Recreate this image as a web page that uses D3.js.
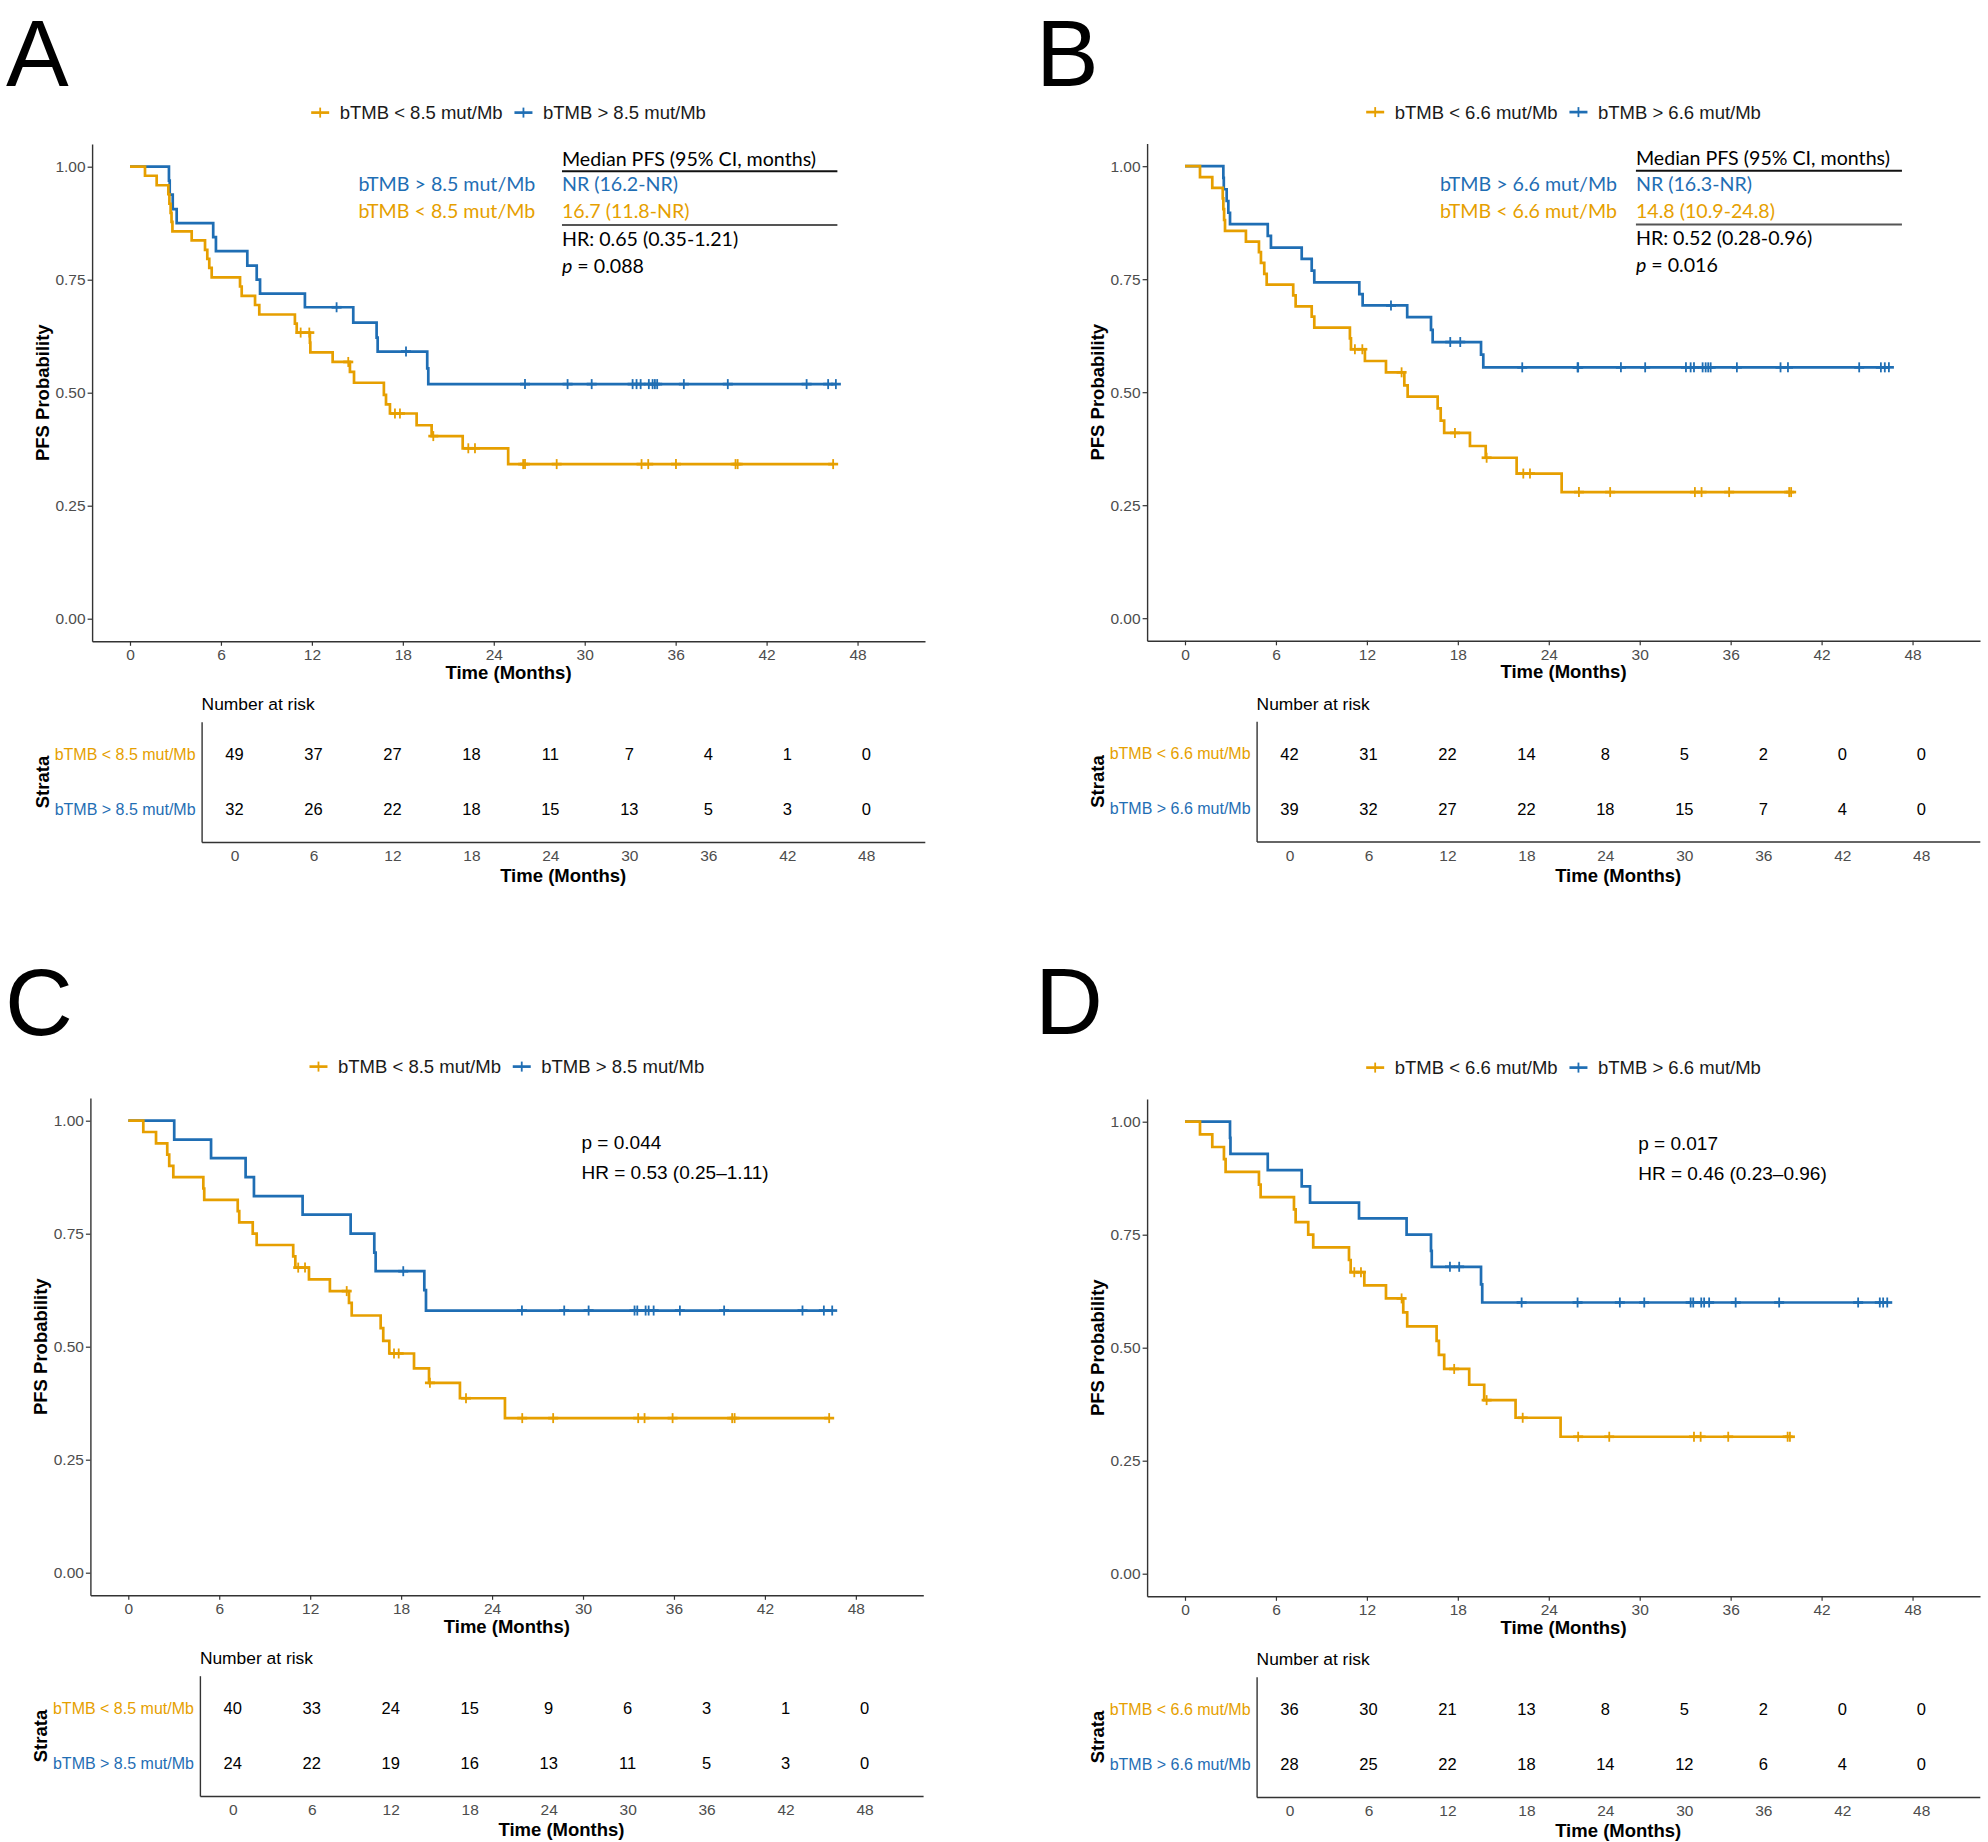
<!DOCTYPE html>
<html><head><meta charset="utf-8">
<script src="https://cdn.jsdelivr.net/npm/d3@7"></script>
<style>body{margin:0;background:#fff}svg{display:block}</style>
</head><body>
<svg id="chart" width="1988" height="1842"></svg>
<script>
// ---------------- data ----------------
const monthTicks = [0, 6, 12, 18, 24, 30, 36, 42, 48];
const survTicks = [0, 0.25, 0.5, 0.75, 1];

// Panel A (cut-off 8.5 mut/Mb)
const A_lowTime = [0.99,1.76,2.53,2.6,2.68,2.74,2.8,4.07,4.95,5.10,5.23,5.39,7.26,7.37,8.25,8.53,10.88,11.0,11.87,11.9,13.37,14.51,14.78,16.75,16.89,17.15,18.91,19.9,21.95,24.95];
const A_lowSurv = [0.98,0.959,0.939,0.918,0.898,0.878,0.857,0.837,0.816,0.796,0.776,0.755,0.735,0.714,0.694,0.673,0.653,0.633,0.611,0.589,0.568,0.546,0.522,0.495,0.474,0.454,0.428,0.404,0.377,0.342];
const A_lowCensor = [11.26,11.83,14.4,17.48,17.81,20.01,22.32,22.76,25.94,26.06,28.15,33.75,34.19,36.02,39.95,40.09,46.39];
const A_highTime = [2.57,2.62,2.82,3.08,5.49,5.67,7.74,8.36,8.58,11.54,14.73,16.27,16.34,19.61,19.68];
const A_highSurv = [0.969,0.938,0.906,0.875,0.844,0.813,0.781,0.75,0.719,0.689,0.655,0.622,0.591,0.554,0.519];
const A_highCensor = [13.63,18.21,26.06,28.87,30.46,33.16,33.42,33.69,34.23,34.48,34.63,34.78,36.54,39.44,44.64,46.06,46.57];
const A_lowRisk = [49,37,27,18,11,7,4,1,0];
const A_highRisk = [32,26,22,18,15,13,5,3,0];

// Panel B (cut-off 6.6 mut/Mb)
const B_lowTime = [0.99,1.8,2.49,2.53,2.58,2.64,4.02,4.88,5.01,5.23,5.39,7.14,7.3,8.36,8.53,10.88,10.95,11.87,13.26,14.47,14.69,16.67,16.87,17.1,18.8,19.84,21.88,24.85];
const B_lowSurv = [0.976,0.952,0.929,0.905,0.881,0.857,0.833,0.81,0.786,0.762,0.738,0.714,0.69,0.667,0.643,0.619,0.595,0.569,0.544,0.515,0.49,0.464,0.437,0.41,0.381,0.355,0.32,0.279];
const B_lowCensor = [11.21,11.7,14.29,17.81,19.9,22.32,22.76,25.99,28.05,33.64,34.08,35.9,39.86,39.99];
const B_highTime = [2.53,2.56,2.75,2.86,2.97,5.46,5.67,7.7,8.36,8.53,11.5,11.72,14.66,16.23,16.34,19.53,19.68];
const B_highSurv = [0.974,0.949,0.923,0.897,0.872,0.846,0.820,0.795,0.769,0.743,0.717,0.692,0.666,0.638,0.611,0.583,0.555];
const B_highCensor = [13.59,17.5,18.16,22.25,25.9,25.94,28.76,30.36,33.05,33.36,33.58,34.15,34.35,34.52,34.68,36.41,39.29,39.78,44.48,45.91,46.17,46.44];
const B_lowRisk = [42,31,22,14,8,5,2,0,0];
const B_highRisk = [39,32,27,22,18,15,7,4,0];

// Panel C (cut-off 8.5 mut/Mb)
const C_lowTime = [0.99,1.83,2.57,2.7,2.97,4.95,5.01,7.22,7.32,8.21,8.47,10.88,11.02,11.92,13.3,14.56,14.74,16.65,16.82,17.22,18.85,19.84,21.88,24.85];
const C_lowSurv = [0.975,0.95,0.925,0.9,0.875,0.85,0.825,0.8,0.775,0.75,0.725,0.7,0.675,0.649,0.623,0.597,0.569,0.541,0.513,0.485,0.452,0.42,0.386,0.342];
const C_lowCensor = [11.21,11.66,14.41,17.53,17.84,19.9,22.28,25.99,28.03,33.64,34.06,35.91,39.84,40.0,46.24];
const C_highTime = [3.03,5.46,7.74,8.29,11.5,14.67,16.23,16.32,19.53,19.64];
const C_highSurv = [0.958,0.917,0.875,0.833,0.792,0.75,0.708,0.667,0.625,0.58];
const C_highCensor = [18.14,25.97,28.76,30.37,33.4,33.58,34.13,34.33,34.66,36.39,39.31,44.48,45.89,46.44];
const C_lowRisk = [40,33,24,15,9,6,3,1,0];
const C_highRisk = [24,22,19,16,13,11,5,3,0];

// Panel D (cut-off 6.6 mut/Mb)
const D_lowTime = [0.99,1.8,2.57,2.68,4.88,4.99,7.19,7.3,8.13,8.46,10.82,10.93,11.83,13.26,14.4,14.66,16.6,16.75,17.1,18.75,19.74,21.81,24.78];
const D_lowSurv = [0.972,0.944,0.917,0.889,0.861,0.833,0.806,0.778,0.75,0.722,0.694,0.667,0.638,0.609,0.578,0.547,0.515,0.484,0.453,0.418,0.384,0.345,0.303];
const D_lowCensor = [11.17,11.61,14.29,17.76,19.9,22.28,25.94,27.99,33.58,34.02,35.84,39.76,39.91];
const D_highTime = [2.97,3.0,5.46,7.7,8.25,11.48,14.62,16.23,16.28,19.53,19.61];
const D_highSurv = [0.964,0.929,0.893,0.857,0.821,0.786,0.75,0.714,0.679,0.64,0.60];
const D_highCensor = [17.48,18.09,22.21,25.9,28.69,30.3,33.36,33.53,34.06,34.25,34.58,36.33,39.2,44.41,45.84,46.06,46.33];
const D_lowRisk = [36,30,21,13,8,5,2,0,0];
const D_highRisk = [28,25,22,18,14,12,6,4,0];

// text content
const A_median = {high:"NR (16.2-NR)", low:"16.7 (11.8-NR)", hr:"HR: 0.65 (0.35-1.21)", p:"0.088"};
const B_median = {high:"NR (16.3-NR)", low:"14.8 (10.9-24.8)", hr:"HR: 0.52 (0.28-0.96)", p:"0.016"};
const C_stats = {p:"p = 0.044", hr:"HR = 0.53 (0.25\u20131.11)"};
const D_stats = {p:"p = 0.017", hr:"HR = 0.46 (0.23\u20130.96)"};

// ---------------- styling / layout ----------------
const COL = {low:"#E69F00", high:"#1F6EB4"};
const SANS = "'Liberation Sans', Arial, sans-serif";
const CAL = "Lato, 'Open Sans', sans-serif";
const svg = d3.select("#chart");

const panels = [
  {letter:"A", lx:6, ly:86, ox:0, oy:0, cut:"8.5",
   low:{time:A_lowTime, surv:A_lowSurv, censor:A_lowCensor, risk:A_lowRisk},
   high:{time:A_highTime, surv:A_highSurv, censor:A_highCensor, risk:A_highRisk},
   median:A_median, medPos:{head:28.5, lab:26.74, end:46.67}},
  {letter:"B", lx:1036, ly:86, ox:1055, oy:-0.5, cut:"6.6",
   low:{time:B_lowTime, surv:B_lowSurv, censor:B_lowCensor, risk:B_lowRisk},
   high:{time:B_highTime, surv:B_highSurv, censor:B_highCensor, risk:B_highRisk},
   median:B_median, medPos:{head:29.75, lab:28.5, end:47.3}},
  {letter:"C", lx:5, ly:1035, ox:-1.7, oy:954, cut:"8.5",
   low:{time:C_lowTime, surv:C_lowSurv, censor:C_lowCensor, risk:C_lowRisk},
   high:{time:C_highTime, surv:C_highSurv, censor:C_highCensor, risk:C_highRisk},
   stats:C_stats},
  {letter:"D", lx:1035, ly:1034, ox:1055, oy:955, cut:"6.6",
   low:{time:D_lowTime, surv:D_lowSurv, censor:D_lowCensor, risk:D_lowRisk},
   high:{time:D_highTime, surv:D_highSurv, censor:D_highCensor, risk:D_highRisk},
   stats:D_stats}
];

function stepAt(time, surv, t){ let s = 1; for (let i=0;i<time.length;i++){ if (time[i] <= t) s = surv[i]; } return s; }

function styleAxis(g){
  g.select(".domain").attr("stroke","#333").attr("stroke-width",1.4);
  g.selectAll(".tick line").attr("stroke","#333").attr("stroke-width",1.2);
  g.selectAll(".tick text").attr("fill","#4D4D4D").style("font-family",SANS).style("font-size","15.5px");
}

panels.forEach(P => {
  const ox = P.ox, oy = P.oy;
  const xDom = [-2.5, 52.45];
  const x = d3.scaleLinear().domain(xDom).range([ox+92.1, ox+925]);
  const y = d3.scaleLinear().domain([-0.05, 1.05]).range([oy+641.3, oy+144.1]);
  const xt = d3.scaleLinear().domain(xDom).range([ox+201.6, ox+924.8]);
  const g = svg.append("g");

  // panel letter
  svg.append("text").attr("x",P.lx).attr("y",P.ly).text(P.letter)
    .style("font-family",SANS).style("font-size","94px").attr("fill","#000");

  // axes
  const gy = g.append("g").attr("transform",`translate(${ox+92.1},0)`)
    .call(d3.axisLeft(y).tickValues(survTicks).tickFormat(d3.format(".2f")).tickSize(4.5).tickSizeOuter(0).tickPadding(2));
  styleAxis(gy);
  const gx = g.append("g").attr("transform",`translate(0,${oy+641.3})`)
    .call(d3.axisBottom(x).tickValues(monthTicks).tickSize(4.5).tickSizeOuter(0).tickPadding(3.3));
  styleAxis(gx);

  g.append("text").attr("x",(x.range()[0]+x.range()[1])/2).attr("y",oy+678.5).attr("text-anchor","middle")
    .text("Time (Months)").style("font-family",SANS).style("font-size","18.5px").style("font-weight","bold");
  g.append("text").attr("transform",`translate(${ox+42.4},${oy+392.7}) rotate(-90)`).attr("text-anchor","middle")
    .attr("dominant-baseline","central")
    .text("PFS Probability").style("font-family",SANS).style("font-size","18.5px").style("font-weight","bold");

  // curves
  const line = d3.line().x(d=>x(d[0])).y(d=>y(d[1])).curve(d3.curveStepAfter);
  ["high","low"].forEach(k => {
    const S = P[k];
    const end = Math.max(S.time[S.time.length-1], S.censor[S.censor.length-1]);
    const pts = [[0,1]].concat(S.time.map((t,i)=>[t,S.surv[i]]));
    pts.push([end, stepAt(S.time,S.surv,end)]);
    g.append("path").datum(pts).attr("d",line).attr("fill","none").attr("stroke",COL[k])
      .attr("stroke-width",2.7).attr("stroke-linejoin","miter");
    const cg = g.append("g").attr("stroke",COL[k]).attr("stroke-width",1.8);
    S.censor.forEach(t => {
      const cx = x(t), cy = y(stepAt(S.time,S.surv,t));
      cg.append("line").attr("x1",cx).attr("x2",cx).attr("y1",cy-5).attr("y2",cy+5);
      cg.append("line").attr("x1",cx-5).attr("x2",cx+5).attr("y1",cy).attr("y2",cy).attr("stroke-width",2.7);
    });
  });

  // legend
  const lg = g.append("g");
  const labels = {low:`bTMB < ${P.cut} mut/Mb`, high:`bTMB > ${P.cut} mut/Mb`};
  let cx = 0;
  ["low","high"].forEach((k,i) => {
    if (i>0) cx += 20.8;
    const kg = lg.append("g");
    kg.append("line").attr("x1",cx-9).attr("x2",cx+9).attr("y1",0).attr("y2",0).attr("stroke",COL[k]).attr("stroke-width",2.7);
    kg.append("line").attr("x1",cx).attr("x2",cx).attr("y1",-5).attr("y2",5).attr("stroke",COL[k]).attr("stroke-width",1.8);
    const t = kg.append("text").attr("x",cx+19.5).attr("y",0).attr("dominant-baseline","central")
      .text(labels[k]).style("font-family",SANS).style("font-size","18.5px").attr("fill","#1a1a1a");
    cx = cx + 19.5 + t.node().getComputedTextLength();
  });
  const lw = cx + 9, lc = (x.range()[0]+x.range()[1])/2;
  lg.attr("transform",`translate(${lc - lw/2 + 9},${oy+112.6})`);

  // annotations
  if (P.median) {
    const M = P.median, pos = P.medPos;
    const ag = g.append("g").style("font-family",CAL);
    const head = ag.append("text").attr("x",x(pos.head)).attr("y",y(1.019)).attr("dominant-baseline","central")
      .text("Median PFS (95% CI, months)").style("font-size","20px").attr("fill","#000");
    const fs = 20*254/head.node().getComputedTextLength();
    head.style("font-size",fs+"px");
    ag.append("line").attr("x1",x(pos.head)).attr("x2",x(pos.end)).attr("y1",y(0.990)).attr("y2",y(0.990)).attr("stroke","#111").attr("stroke-width",2);
    ag.append("text").attr("x",x(pos.lab)).attr("y",y(0.962)).attr("text-anchor","end").attr("dominant-baseline","central")
      .text(labels.high).style("font-size",fs+"px").attr("fill",COL.high);
    ag.append("text").attr("x",x(pos.head)).attr("y",y(0.962)).attr("dominant-baseline","central")
      .text(M.high).style("font-size",fs+"px").attr("fill",COL.high);
    ag.append("text").attr("x",x(pos.lab)).attr("y",y(0.903)).attr("text-anchor","end").attr("dominant-baseline","central")
      .text(labels.low).style("font-size",fs+"px").attr("fill",COL.low);
    ag.append("text").attr("x",x(pos.head)).attr("y",y(0.903)).attr("dominant-baseline","central")
      .text(M.low).style("font-size",fs+"px").attr("fill",COL.low);
    ag.append("line").attr("x1",x(pos.head)).attr("x2",x(pos.end)).attr("y1",y(0.871)).attr("y2",y(0.871)).attr("stroke","#555").attr("stroke-width",2.2);
    ag.append("text").attr("x",x(pos.head)).attr("y",y(0.842)).attr("dominant-baseline","central")
      .text(M.hr).style("font-size",fs+"px").attr("fill","#000");
    const pt = ag.append("text").attr("x",x(pos.head)).attr("y",y(0.783)).attr("dominant-baseline","central")
      .style("font-size",fs+"px").attr("fill","#000");
    pt.append("tspan").style("font-style","italic").text("p");
    pt.append("tspan").text(" = " + M.p);
  }
  if (P.stats) {
    const sg = g.append("g").style("font-family",SANS).style("font-size","19px");
    sg.append("text").attr("x",x(29.9)).attr("y",y(0.951)).attr("dominant-baseline","central").text(P.stats.p);
    sg.append("text").attr("x",x(29.9)).attr("y",y(0.886)).attr("dominant-baseline","central").text(P.stats.hr);
  }

  // risk table
  const tg = g.append("g");
  const ty = d3.scalePoint().domain(["low","high"]).range([oy+721.7, oy+842]).padding(0.594);
  const gtx = tg.append("g").attr("transform",`translate(0,${oy+842})`)
    .call(d3.axisBottom(xt).tickValues(monthTicks).tickSize(0).tickSizeOuter(0).tickPadding(8.1));
  styleAxis(gtx);
  const gty = tg.append("g").attr("transform",`translate(${ox+201.6},0)`)
    .call(d3.axisLeft(ty).tickSize(0).tickSizeOuter(0).tickPadding(6).tickFormat(k=>labels[k]));
  styleAxis(gty);
  gty.selectAll(".tick text").attr("fill",k=>COL[k]).style("font-size","16px");
  ["low","high"].forEach(k => {
    tg.append("g").selectAll("text").data(P[k].risk).join("text")
      .attr("x",(d,i)=>xt(monthTicks[i])).attr("y",ty(k)).attr("text-anchor","middle").attr("dominant-baseline","central")
      .text(d=>d).style("font-family",SANS).style("font-size","16.5px").attr("fill","#000");
  });
  tg.append("text").attr("x",ox+201.6).attr("y",oy+704.3).attr("dominant-baseline","central")
    .text("Number at risk").style("font-family",SANS).style("font-size","17.4px");
  tg.append("text").attr("x",(xt.range()[0]+xt.range()[1])/2).attr("y",oy+882).attr("text-anchor","middle")
    .text("Time (Months)").style("font-family",SANS).style("font-size","18.5px").style("font-weight","bold");
  tg.append("text").attr("transform",`translate(${ox+42},${oy+782}) rotate(-90)`).attr("text-anchor","middle")
    .attr("dominant-baseline","central")
    .text("Strata").style("font-family",SANS).style("font-size","18.5px").style("font-weight","bold");
});
</script>
</body></html>
